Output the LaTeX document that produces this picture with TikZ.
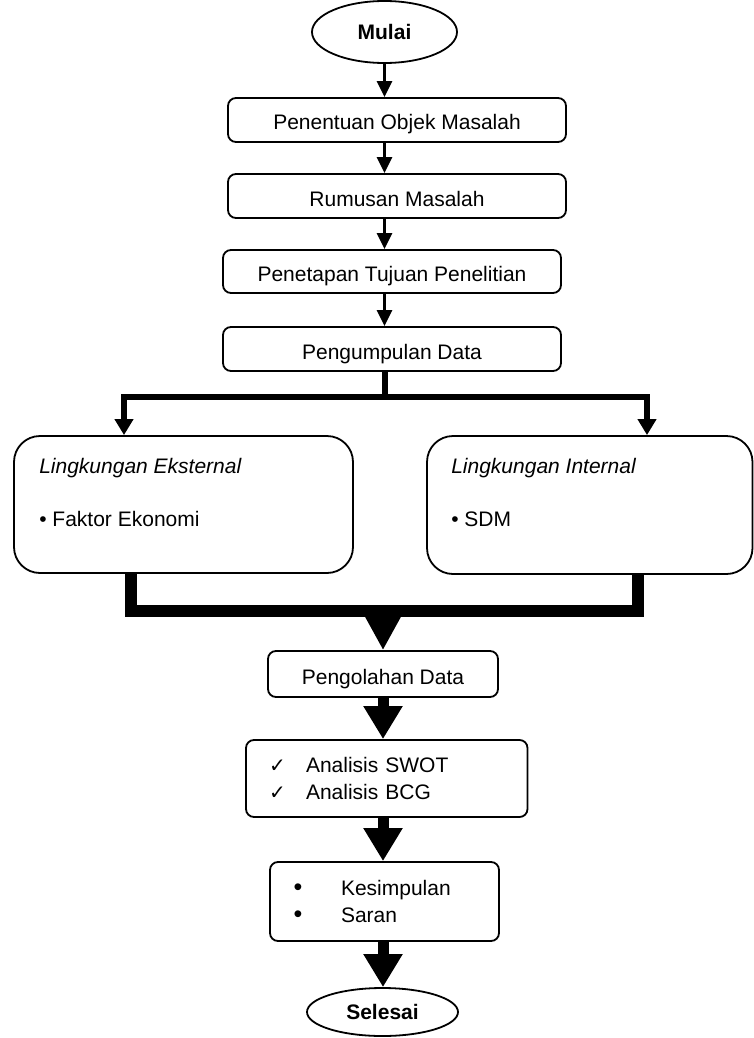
\documentclass[tikz,border=0pt]{standalone}
\usepackage{fontspec}
\setmainfont{Liberation Sans}
\newfontfamily\simbol{DejaVu Sans}
\usepackage{tikz}
\usetikzlibrary{arrows.meta, positioning, shapes.geometric}

\newcommand{\cek}{\makebox[37pt][l]{\simbol\fontsize{20}{20}\selectfont ✓}}
\newcommand{\titik}{\makebox[47.5pt][l]{\fontsize{25}{25}\selectfont •}}

\begin{document}
\begin{tikzpicture}[
        x=1pt, y=1pt,
        font=\fontsize{21}{27.5}\selectfont,
        kotak/.style={rectangle, draw, rounded corners=8pt, line width=1.8pt, inner sep=0pt, text height=20pt, text depth=0pt},
        daftar/.style={rectangle, draw, rounded corners=8pt, line width=1.8pt, inner sep=0pt, align=left},
        kotakbesar/.style={rectangle, draw, rounded corners=26pt, line width=1.8pt, inner sep=0pt},
        terminal/.style={ellipse, draw, line width=1.8pt, inner sep=0pt, font=\fontsize{21}{25}\selectfont\bfseries, text height=15pt, text depth=0pt},
        teks/.style={anchor=base west, inner sep=0pt},
        panah/.style={line width=2.4pt, -{Triangle[width=15pt,length=16pt]}},
        cabang/.style={line width=6.5pt, -{Triangle[width=18pt,length=16pt]}},
        gabung/.style={line width=11.5pt},
        panahtebal/.style={line width=11pt, -{Triangle[width=37pt,length=33pt]}}
    ]

    \useasboundingbox (0,0) rectangle (754,-1038);

    % alur atas
    \node[terminal, minimum width=145pt, minimum height=62pt] (mulai) at (384.5,-32) {Mulai};
    \node[kotak, minimum width=338pt, minimum height=44pt] (objek) at (397,-120) {Penentuan Objek Masalah};
    \node[kotak, minimum width=338pt, minimum height=44pt] (rumusan) at (397,-196) {Rumusan Masalah};
    \node[kotak, minimum width=338pt, minimum height=43pt] (tujuan) at (392,-271.5) {Penetapan Tujuan Penelitian};
    \node[kotak, minimum width=338pt, minimum height=44pt] (data) at (392,-349) {Pengumpulan Data};

    \draw[panah] (mulai.south) -- (mulai.south |- objek.north);
    \draw[panah] (objek.south -| mulai) -- (rumusan.north -| mulai);
    \draw[panah] (rumusan.south -| mulai) -- (tujuan.north -| mulai);
    \draw[panah] (tujuan.south -| mulai) -- (data.north -| mulai);

    % lingkungan
    \node[kotakbesar, minimum width=339pt, minimum height=137pt] (eksternal) at (183.5,-504.5) {};
    \node[kotakbesar, minimum width=325.5pt, minimum height=138pt] (internal) at (589.75,-505) {};
    \node[teks, font=\fontsize{21}{25}\selectfont\itshape] (ekstjudul) at ([shift={(26,-38.5)}]eksternal.north west) {Lingkungan Eksternal};
    \node[teks] (ekstisi) at ([shift={(26,-91.5)}]eksternal.north west) {• Faktor Ekonomi};
    \node[teks, font=\fontsize{21}{25}\selectfont\itshape] (intjudul) at ([shift={(25,-38.5)}]internal.north west) {Lingkungan Internal};
    \node[teks] (intisi) at ([shift={(25,-91.5)}]internal.north west) {• SDM};

    \coordinate (pisah) at (385,-397);
    \draw[line width=6.5pt] (data.south -| pisah) -- (pisah);
    \draw[cabang] (pisah) -| ([xshift=-59.5]eksternal.north);
    \draw[cabang] (pisah) -| ([xshift=57.25]internal.north);

    % alur bawah
    \node[kotak, minimum width=230pt, minimum height=46pt] (olah) at (383,-674) {Pengolahan Data};
    \node[daftar, minimum width=281.5pt, minimum height=77pt, text width=235.5pt] (analisis) at (386.75,-778.5)
        {\cek Analisis SWOT\\ \cek Analisis BCG};
    \node[daftar, minimum width=229pt, minimum height=79pt, text width=182pt] (hasil) at (384.5,-901.5)
        {\titik Kesimpulan\\ \titik Saran};
    \node[terminal, minimum width=151pt, minimum height=48pt] (selesai) at (382.5,-1012) {Selesai};

    \coordinate (temu) at (383,-611);
    \draw[gabung] ([xshift=-52.5]eksternal.south) |- (temu) -| ([xshift=48.25]internal.south);
    \draw[line width=11pt, -{Triangle[width=33pt,length=33pt]}] (temu) -- (olah.north);

    \draw[panahtebal] (olah.south) -- (olah.south |- analisis.north);
    \draw[panahtebal] (analisis.south -| olah) -- (hasil.north -| olah);
    \draw[panahtebal] (hasil.south -| olah) -- (selesai.north -| olah);

\end{tikzpicture}
\end{document}
